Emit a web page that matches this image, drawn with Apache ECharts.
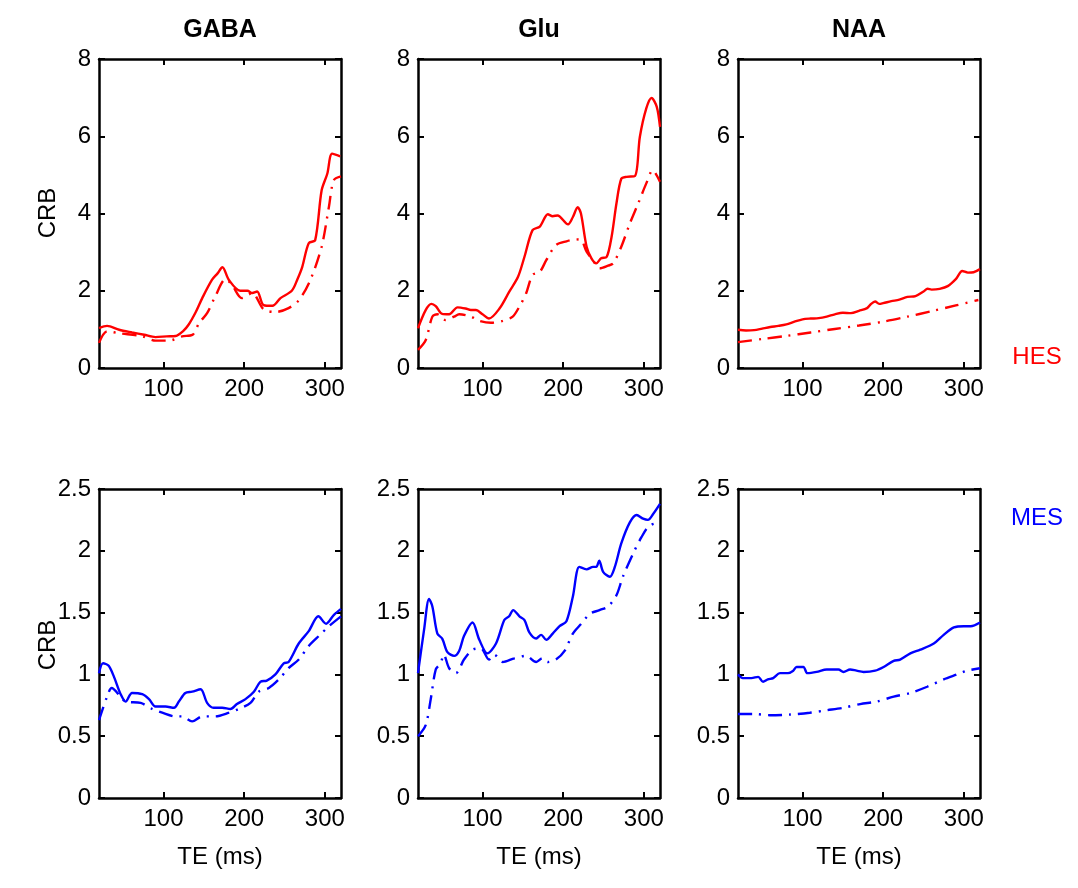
<!DOCTYPE html>
<html>
<head>
<meta charset="utf-8">
<script src="https://cdn.jsdelivr.net/npm/echarts@6/dist/echarts.min.js"></script>
<style>
  html, body { margin: 0; padding: 0; background: #fff; }
  #chart { width: 1078px; height: 888px; }
</style>
</head>
<body>
<div id="chart"></div>
<script>
// Cramér-Rao bound (CRB) versus echo time TE (ms), pairs of [TE, CRB]
const metabolites = ['GABA', 'Glu', 'NAA'];
const rowLabels = ['HES', 'MES'];
const xTicks = [100, 200, 300];
const yTicksHES = [0, 2, 4, 6, 8];
const yTicksMES = [0, 0.5, 1, 1.5, 2, 2.5];

// HES, solid
const gabaHesSolid = [[20,1.03],[30,1.09],[45,0.99],[61,0.92],[76,0.86],[90,0.8],[104,0.82],[115,0.83],[124,0.95],[131,1.12],[140,1.45],[148,1.81],[160,2.28],[167,2.45],[173,2.61],[181,2.28],[195,2.0],[204,2.0],[210,1.94],[216,1.98],[224,1.63],[235,1.61],[245,1.81],[259,2.0],[266,2.3],[272,2.62],[280,3.23],[288,3.31],[296,4.6],[303,5.03],[309,5.55],[319,5.48]];
const gluHesSolid = [[20,1.03],[29.5,1.5],[36.6,1.66],[42,1.6],[50,1.4],[58.6,1.39],[69,1.57],[79,1.54],[85.5,1.5],[91.8,1.5],[100,1.39],[108,1.28],[121,1.54],[133,1.97],[144,2.36],[152,2.88],[162,3.57],[171,3.66],[181,3.98],[187,3.93],[193,3.95],[206,3.72],[212,3.91],[218,4.16],[222,4.0],[229,3.14],[235,2.84],[241,2.71],[247,2.84],[254,2.88],[260,3.4],[266,4.26],[272,4.9],[278.5,4.95],[289,4.97],[295,5.98],[303,6.72],[309.6,6.99],[316,6.76],[320,6.24]];
const naaHesSolid = [[20,0.99],[30,0.97],[40,0.98],[50,1.02],[60,1.06],[70,1.09],[80,1.13],[90,1.2],[100,1.26],[110,1.28],[120,1.29],[130,1.33],[140,1.39],[150,1.43],[160,1.42],[170,1.48],[180,1.55],[185,1.66],[190,1.72],[195,1.66],[200,1.68],[210,1.73],[220,1.77],[230,1.84],[240,1.86],[250,1.98],[255,2.05],[260,2.03],[270,2.05],[280,2.12],[290,2.3],[298,2.51],[305,2.47],[312,2.48],[320,2.56]];

// HES, dash-dot
const gabaHesDash = [[20,0.65],[30,0.95],[45,0.9],[74,0.82],[90,0.71],[107,0.71],[123,0.82],[136,0.86],[144,1.16],[154,1.42],[164,1.85],[177,2.3],[185,2.15],[197,1.81],[210,1.94],[224,1.52],[239,1.45],[255,1.55],[268,1.76],[282,2.28],[296,3.14],[305,4.17],[311,4.86],[320,4.96]];
const gluHesDash = [[20,0.47],[29.5,0.72],[37.8,1.33],[44,1.39],[54,1.24],[64.8,1.33],[71,1.39],[85.6,1.33],[96,1.22],[110.5,1.17],[125,1.22],[137.4,1.33],[145.7,1.59],[154,1.93],[162,2.41],[171,2.49],[179,2.79],[191,3.18],[204,3.28],[216,3.33],[222.5,3.31],[229,3.01],[237,2.79],[245,2.58],[255.7,2.65],[262,2.71],[272,3.14],[282.6,3.74],[293,4.26],[303,4.78],[311,5.12],[320,4.82]];
const naaHesDash = [[20,0.67],[50,0.75],[80,0.83],[110,0.92],[140,1.01],[170,1.1],[200,1.2],[230,1.33],[260,1.47],[290,1.62],[318,1.76]];

// MES, solid
const gabaMesSolid = [[20,1.01],[25,1.09],[32,1.07],[38.6,0.98],[46.8,0.84],[53,0.78],[61,0.85],[73.6,0.84],[82,0.8],[90,0.74],[102.5,0.74],[113,0.73],[119,0.78],[127,0.85],[135.5,0.86],[146,0.88],[154,0.77],[162,0.73],[172.7,0.73],[183,0.72],[191,0.76],[201.6,0.8],[212,0.86],[220,0.94],[228,0.95],[238.7,1.0],[249,1.09],[255,1.1],[267.6,1.25],[280,1.35],[292,1.47],[301.5,1.41],[311,1.48],[320,1.53]];
const gluMesSolid = [[20,1.01],[27.5,1.36],[33.7,1.61],[37.8,1.55],[44,1.33],[50,1.29],[56.5,1.18],[64.8,1.15],[71,1.19],[77,1.31],[87.6,1.42],[96,1.28],[106,1.17],[116.7,1.25],[127,1.44],[133,1.47],[138,1.52],[145.7,1.47],[152,1.44],[158,1.34],[166.5,1.29],[172.7,1.32],[179,1.28],[187,1.33],[195.5,1.39],[204,1.43],[212,1.63],[220,1.87],[229,1.85],[237,1.87],[241,1.87],[244.7,1.92],[249.5,1.83],[257.8,1.79],[264,1.87],[272,2.06],[282.6,2.23],[291,2.29],[299,2.26],[305,2.25],[311.7,2.3],[320,2.38]];
const naaMesSolid = [[20,1.0],[26,0.97],[36.6,0.97],[45,0.98],[51,0.94],[57,0.96],[63.6,0.97],[72,1.01],[82,1.01],[88.5,1.03],[92.6,1.06],[101,1.06],[106,1.01],[117.5,1.02],[130,1.04],[144.5,1.04],[150.7,1.02],[159,1.04],[167,1.03],[175.6,1.02],[190,1.03],[200.5,1.06],[213,1.11],[221,1.12],[233.7,1.17],[246,1.2],[262.7,1.25],[275,1.32],[287.6,1.38],[300,1.39],[308.4,1.39],[320,1.42]];

// MES, dash-dot
const gabaMesDash = [[20,0.63],[30,0.82],[35.7,0.89],[46.8,0.82],[53,0.78],[71.6,0.77],[86,0.72],[98.4,0.69],[115,0.66],[123,0.66],[135.5,0.62],[148,0.66],[164,0.66],[181,0.69],[193,0.72],[207.8,0.77],[218,0.86],[230.5,0.89],[243,0.96],[255,1.05],[267.6,1.12],[280,1.23],[294,1.32],[305,1.39],[320,1.47]];
const gluMesDash = [[20,0.5],[29.5,0.59],[35.8,0.8],[42,1.04],[48,1.09],[52,1.16],[58.6,1.05],[67,1.01],[77,1.12],[87.6,1.2],[98,1.21],[108,1.12],[114.6,1.16],[125,1.1],[139.5,1.13],[154,1.15],[166.5,1.1],[174,1.13],[181,1.1],[191,1.12],[201.7,1.19],[212,1.33],[222.5,1.41],[233,1.49],[245,1.52],[255.7,1.55],[266,1.64],[274,1.79],[286.8,1.98],[297,2.11],[305,2.19],[313.8,2.22],[320,2.22]];
const naaMesDash = [[20,0.68],[38.7,0.68],[59.4,0.67],[84,0.675],[109,0.69],[130,0.71],[150.7,0.73],[171.5,0.76],[192,0.78],[213,0.82],[233.7,0.85],[254.5,0.9],[275,0.96],[291.8,1.0],[304,1.03],[320,1.05]];

const solidRows = [[gabaHesSolid, gluHesSolid, naaHesSolid], [gabaMesSolid, gluMesSolid, naaMesSolid]];
const dashRows = [[gabaHesDash, gluHesDash, naaHesDash], [gabaMesDash, gluMesDash, naaMesDash]];
const rowColors = ['#ff0000', '#0000ff'];
const rowYMax = [8, 2.5];
const rowYInterval = [2, 0.5];

const FONT = '"Liberation Sans", Arial, Helvetica, sans-serif';
const colLeft = [99, 418, 738];
const colWidth = 242;
const rowTop = [59, 489];
const rowHeight = [309, 309];

const grid = [], xAxis = [], yAxis = [], series = [];
const frameLine = { show: true, onZero: false, lineStyle: { color: '#000', width: 2.5 } };
const tickStyle = { color: '#000', width: 2 };

for (let r = 0; r < 2; r++) {
  for (let c = 0; c < 3; c++) {
    const g = grid.length;
    grid.push({ left: colLeft[c], top: rowTop[r], width: colWidth, height: rowHeight[r] });
    const xBase = { type: 'value', min: 20, max: 320, gridIndex: g, splitLine: { show: false }, axisLine: frameLine };
    const xi = xAxis.length;
    xAxis.push(Object.assign({}, xBase, {
      position: 'bottom',
      axisTick: { show: true, inside: true, length: 6, customValues: xTicks, lineStyle: tickStyle },
      axisLabel: { customValues: xTicks, color: '#000', fontSize: 24, fontFamily: FONT, margin: 9 }
    }));
    xAxis.push(Object.assign({}, xBase, {
      position: 'top',
      axisTick: { show: true, inside: true, length: 6, customValues: xTicks, lineStyle: tickStyle },
      axisLabel: { show: false }
    }));
    const yBase = { type: 'value', min: 0, max: rowYMax[r], interval: rowYInterval[r], gridIndex: g, splitLine: { show: false }, axisLine: frameLine };
    const yi = yAxis.length;
    yAxis.push(Object.assign({}, yBase, {
      position: 'left',
      axisTick: { show: true, inside: true, length: 6, lineStyle: tickStyle },
      axisLabel: { color: '#000', fontSize: 24, fontFamily: FONT, margin: 8 }
    }));
    yAxis.push(Object.assign({}, yBase, {
      position: 'right',
      axisTick: { show: true, inside: true, length: 6, lineStyle: tickStyle },
      axisLabel: { show: false }
    }));
    series.push({
      type: 'line', xAxisIndex: xi, yAxisIndex: yi, data: solidRows[r][c],
      symbol: 'none', smooth: 0.3, silent: true,
      lineStyle: { color: rowColors[r], width: 2.4 }
    });
    series.push({
      type: 'line', xAxisIndex: xi, yAxisIndex: yi, data: dashRows[r][c],
      symbol: 'none', smooth: 0.3, silent: true,
      lineStyle: { color: rowColors[r], width: 2.4, type: [14, 7, 2, 7] }
    });
  }
}

const graphic = [];
metabolites.forEach((m, c) => {
  const cx = colLeft[c] + colWidth / 2;
  graphic.push({ type: 'text', x: cx, y: 30, style: { text: m, font: 'bold 25px ' + FONT, fill: '#000', align: 'center', verticalAlign: 'middle' } });
  graphic.push({ type: 'text', x: cx, y: 857, style: { text: 'TE (ms)', font: '24px ' + FONT, fill: '#000', align: 'center', verticalAlign: 'middle' } });
});
[213, 645].forEach(cy => {
  graphic.push({ type: 'text', x: 48, y: cy, rotation: Math.PI / 2, style: { text: 'CRB', font: '24px ' + FONT, fill: '#000', align: 'center', verticalAlign: 'middle' } });
});
graphic.push({ type: 'text', x: 1037, y: 357, style: { text: rowLabels[0], font: '24px ' + FONT, fill: rowColors[0], align: 'center', verticalAlign: 'middle' } });
graphic.push({ type: 'text', x: 1037, y: 518, style: { text: rowLabels[1], font: '24px ' + FONT, fill: rowColors[1], align: 'center', verticalAlign: 'middle' } });

const chart = echarts.init(document.getElementById('chart'), null, { renderer: 'canvas' });
chart.setOption({
  backgroundColor: '#fff',
  animation: false,
  grid, xAxis, yAxis, series, graphic
});
</script>
</body>
</html>
